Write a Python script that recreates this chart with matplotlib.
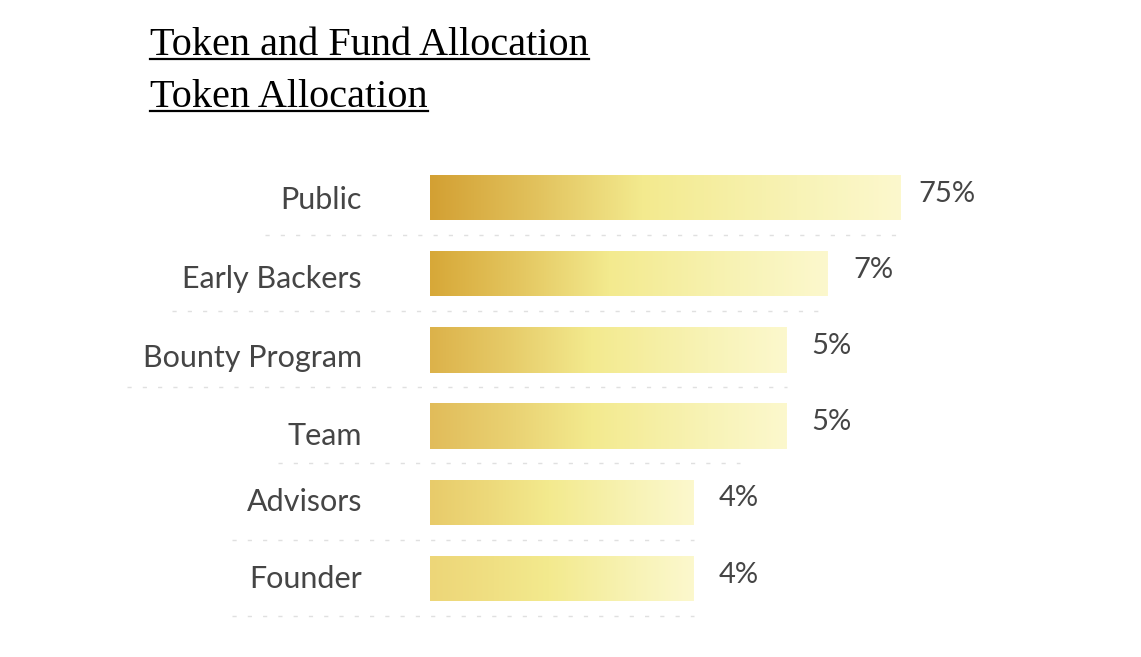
import numpy as np
import matplotlib
matplotlib.use("Agg")
import matplotlib.pyplot as plt
from matplotlib.colors import LinearSegmentedColormap, to_rgb

# ---------------------------------------------------------------
# data
# ---------------------------------------------------------------
categories = ["Public", "Early Backers", "Bounty Program", "Team", "Advisors", "Founder"]
value_labels = ["75%", "7%", "5%", "5%", "4%", "4%"]
# drawn bar lengths (the bars in the picture are not to scale with the %)
bar_lengths = [471, 398, 357, 357, 264, 264]

title_1 = "Token and Fund Allocation"
title_2 = "Token Allocation"

# ---------------------------------------------------------------
# styling / layout
# ---------------------------------------------------------------
W, H = 1141, 657
left_colors = ["#D3A033", "#D7A838", "#DCB24A", "#E1BC5A", "#E8CB6A", "#EDD678"]
label_dy = [0.03, 0.07, 0.10, 0.13, 0.0, 0.0]        # small vertical nudges of the names
value_dx = [17, 25, 24, 24, 25, 25]                   # gap between bar end and value text
rule_start = [-165, -258, -303, -152, -198, -198]     # where the dotted rule under each row starts
rule_end = [471, 398, 357, 310, 264, 264]
sans = ["Lato", "DejaVu Sans"]
txt_color = "#454545"
mid_c = np.array(to_rgb("#F3EA8E"))

fig = plt.figure(figsize=(W / 100, H / 100), dpi=100)
ax = fig.add_axes([0, 0, 1, 1])
ax.set_xlim(-430, W - 430)
row_gap = 76.2
ax.set_ylim((H - 197.5) / row_gap, -197.5 / row_gap)
ax.axis("off")

y = np.arange(len(categories))
bh = 45.5 / row_gap
bars = ax.barh(y, bar_lengths, height=bh, color="none", edgecolor="none")

grad = np.linspace(0, 1, 256).reshape(1, -1)
for i, (bar, length) in enumerate(zip(bars, bar_lengths)):
    lc = np.array(to_rgb(left_colors[i]))
    cmap = LinearSegmentedColormap.from_list(
        "g%d" % i,
        [(0.0, lc), (0.22, 0.55 * lc + 0.45 * mid_c), (0.45, mid_c),
         (0.78, to_rgb("#F8F3B6")), (1.0, to_rgb("#FCF8CD"))])
    im = ax.imshow(grad, cmap=cmap, aspect="auto", interpolation="bilinear",
                   extent=(0, length, i + bh / 2, i - bh / 2), zorder=2)
    im.set_clip_path(bar)

    # value label
    ax.text(length + value_dx[i], i - 0.05, value_labels[i], ha="left", va="center",
            fontsize=21, color=txt_color, family=sans)
    # category name
    ax.text(-68, i + label_dy[i], categories[i], ha="right", va="center",
            fontsize=22, color=txt_color, family=sans)
    # dotted rule under the row
    ax.plot([rule_start[i], rule_end[i]], [i + 0.49, i + 0.49], color="#e0e0e0",
            lw=1, dashes=(3, 8), zorder=1)

# titles with underline
t1 = fig.text(150 / W, 1 - 55 / H, title_1, fontsize=29, family="Liberation Serif",
              color="black", va="baseline", ha="left")
t2 = fig.text(150 / W, 1 - 107 / H, title_2, fontsize=29, family="Liberation Serif",
              color="black", va="baseline", ha="left")
fig.canvas.draw()
r = fig.canvas.get_renderer()
for t, base in [(t1, 55), (t2, 107)]:
    bb = t.get_window_extent(renderer=r)
    yy = 1 - (base + 4) / H
    fig.add_artist(plt.Line2D([bb.x0 / W, bb.x1 / W], [yy, yy], color="black", lw=1.6,
                              transform=fig.transFigure))

fig.savefig("out.png", dpi=100)
